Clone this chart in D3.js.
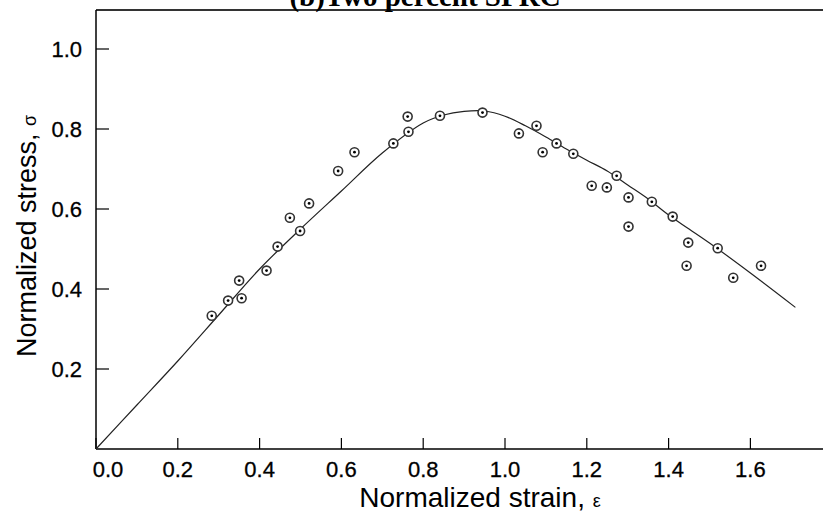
<!DOCTYPE html>
<html lang="en">
<head>
    <meta charset="UTF-8">
    <title>(b)Two percent SPRC</title>
    <script src="https://d3js.org/d3.v7.min.js"></script>
    <style>
        body {
            margin: 0;
            background-color: #fff;
        }
        .tick-label {
            font-family: 'Liberation Sans', Arial, sans-serif;
            font-size: 22px;
            fill: #000;
            stroke: #000;
            stroke-width: 0.3px;
        }
        .axis-title {
            font-family: 'Liberation Sans', Arial, sans-serif;
            font-size: 27px;
            fill: #000;
        }
        .title {
            font-family: 'Liberation Serif', 'Times New Roman', serif;
            font-weight: bold;
            font-size: 29px;
        }
    </style>
</head>
<body>
    <svg id="chart"></svg>

    <script>
        // fitted curve
        const curveStrain = [0, 0.1, 0.2, 0.3, 0.4, 0.5, 0.6, 0.7, 0.8, 0.85, 0.9, 0.95, 1.0, 1.05, 1.1, 1.15, 1.2, 1.25, 1.3, 1.35, 1.4, 1.45, 1.5, 1.6, 1.71];
        const curveStress = [0, 0.11, 0.22, 0.335, 0.45, 0.55, 0.645, 0.74, 0.815, 0.835, 0.844, 0.845, 0.832, 0.808, 0.78, 0.75, 0.722, 0.695, 0.66, 0.625, 0.585, 0.55, 0.515, 0.44, 0.354];

        // measured points
        const pointStrain = [0.283, 0.323, 0.350, 0.356, 0.417, 0.444, 0.474, 0.499, 0.521, 0.592, 0.632, 0.727, 0.762, 0.764, 0.841, 0.945,
            1.034, 1.077, 1.092, 1.126, 1.167, 1.212, 1.249, 1.273, 1.302, 1.302, 1.359, 1.41, 1.448, 1.444, 1.52, 1.558, 1.626];
        const pointStress = [0.333, 0.371, 0.421, 0.377, 0.446, 0.506, 0.578, 0.545, 0.614, 0.695, 0.742, 0.764, 0.831, 0.793, 0.833, 0.841,
            0.789, 0.808, 0.742, 0.764, 0.738, 0.658, 0.654, 0.683, 0.629, 0.556, 0.618, 0.581, 0.516, 0.458, 0.502, 0.428, 0.458];

        const xTicks = [0, 0.2, 0.4, 0.6, 0.8, 1.0, 1.2, 1.4, 1.6];
        const yTicks = [0.2, 0.4, 0.6, 0.8, 1.0];

        const W = 823, H = 520;
        const plotLeft = 96, plotBottom = 449, plotTop = 10;

        const svg = d3.select("#chart")
            .attr("width", W)
            .attr("height", H);

        const x = d3.scaleLinear().domain([0, 1]).range([plotLeft, plotLeft + 409]);
        const y = d3.scaleLinear().domain([0, 1]).range([plotBottom, plotBottom - 400]);

        // frame: left, bottom and top lines (no right side)
        svg.append("line")
            .attr("x1", plotLeft).attr("x2", W)
            .attr("y1", plotTop).attr("y2", plotTop)
            .attr("stroke", "#333").attr("stroke-width", 2);
        svg.append("line")
            .attr("x1", plotLeft).attr("x2", W)
            .attr("y1", plotBottom).attr("y2", plotBottom)
            .attr("stroke", "#000").attr("stroke-width", 1.5);
        svg.append("line")
            .attr("x1", plotLeft).attr("x2", plotLeft)
            .attr("y1", plotTop).attr("y2", plotBottom)
            .attr("stroke", "#000").attr("stroke-width", 1.5);

        // x ticks (inward)
        const xg = svg.append("g");
        xg.selectAll("line")
            .data(xTicks)
            .enter().append("line")
            .attr("x1", d => x(d)).attr("x2", d => x(d))
            .attr("y1", plotBottom).attr("y2", plotBottom - 11)
            .attr("stroke", "#000").attr("stroke-width", 1.2);
        xg.selectAll("text")
            .data(xTicks)
            .enter().append("text")
            .attr("class", "tick-label")
            .attr("x", d => x(d) + (d === 0 ? 12 : 0))
            .attr("y", 477)
            .attr("text-anchor", "middle")
            .text(d => d3.format(".1f")(d));

        // y ticks (inward)
        const yg = svg.append("g");
        yg.selectAll("line")
            .data(yTicks)
            .enter().append("line")
            .attr("x1", plotLeft).attr("x2", plotLeft + 13)
            .attr("y1", d => y(d)).attr("y2", d => y(d))
            .attr("stroke", "#000").attr("stroke-width", 1.2);
        yg.selectAll("text")
            .data(yTicks)
            .enter().append("text")
            .attr("class", "tick-label")
            .attr("x", 82)
            .attr("y", d => y(d) + 8)
            .attr("text-anchor", "end")
            .text(d => d3.format(".1f")(d));

        // curve
        const curveData = curveStrain.map((e, i) => ({e: e, s: curveStress[i]}));
        svg.append("path")
            .datum(curveData)
            .attr("fill", "none")
            .attr("stroke", "#222")
            .attr("stroke-width", 1.2)
            .attr("d", d3.line().x(d => x(d.e)).y(d => y(d.s)).curve(d3.curveCatmullRom));

        // markers: ring with a dot
        const pts = pointStrain.map((e, i) => ({e: e, s: pointStress[i]}));
        const m = svg.append("g").selectAll("g")
            .data(pts)
            .enter().append("g")
            .attr("transform", d => `translate(${x(d.e)},${y(d.s)})`);
        m.append("circle")
            .attr("r", 4.5)
            .attr("fill", "#fff")
            .attr("stroke", "#333")
            .attr("stroke-width", 1.6);
        m.append("circle")
            .attr("r", 1.4)
            .attr("fill", "#000");

        // axis titles
        const xt = svg.append("text")
            .attr("class", "axis-title")
            .attr("x", 480)
            .attr("y", 507)
            .style("font-size", "28px")
            .attr("text-anchor", "middle");
        xt.append("tspan").text("Normalized strain, ");
        xt.append("tspan").style("font-size", "18px").text("ε");

        const yt = svg.append("text")
            .attr("class", "axis-title")
            .attr("transform", "translate(36,236) rotate(-90)")
            .attr("text-anchor", "middle");
        yt.append("tspan").text("Normalized stress, ");
        yt.append("tspan").style("font-size", "18px").text("σ");

        // title, partly cut off at the top
        svg.append("text")
            .attr("class", "title")
            .attr("x", 425)
            .attr("y", 6)
            .attr("text-anchor", "middle")
            .text("(b)Two percent SPRC");
    </script>
</body>
</html>
